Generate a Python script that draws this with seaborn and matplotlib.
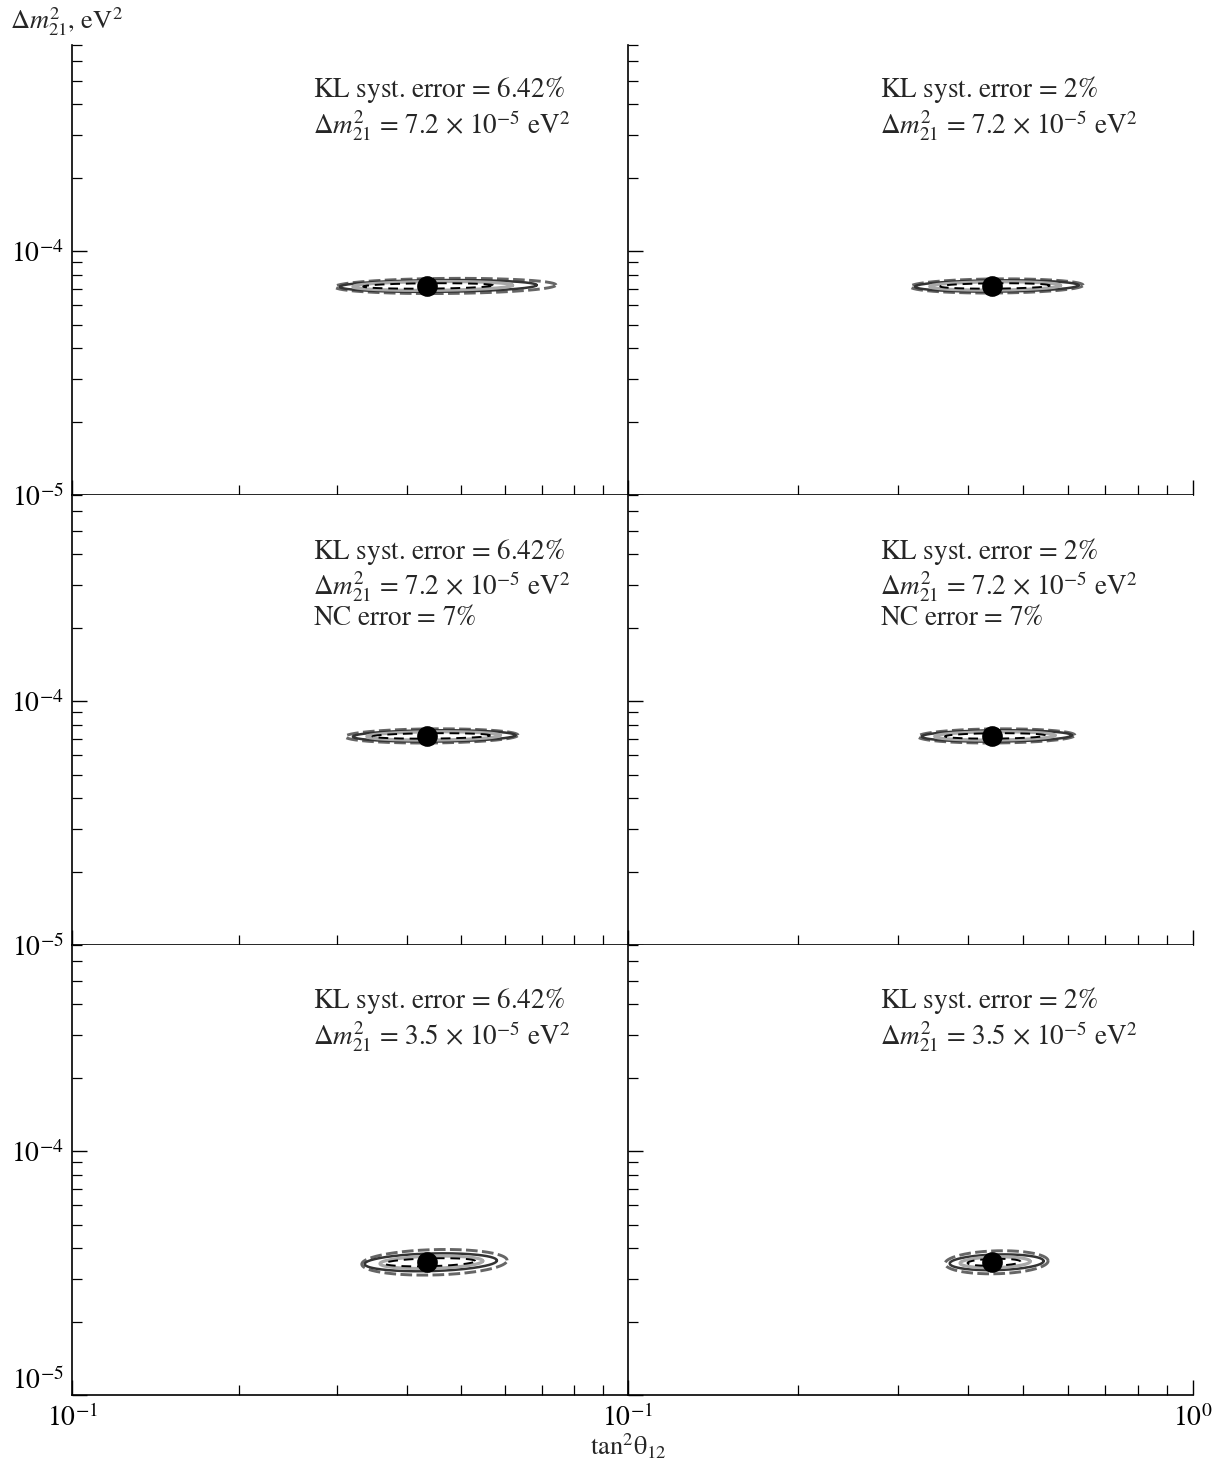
import numpy as np
import pandas as pd
import matplotlib
matplotlib.use("Agg")
import matplotlib.pyplot as plt
import seaborn as sns
from matplotlib.ticker import FixedLocator, NullFormatter

# ---------------- data ----------------
panel_text = [
    "KL syst. error = 6.42$\\%$\n$\\Delta m^2_{21}$ = 7.2 × 10$^{-5}$ eV$^2$",
    "KL syst. error = 2$\\%$\n$\\Delta m^2_{21}$ = 7.2 × 10$^{-5}$ eV$^2$",
    "KL syst. error = 6.42$\\%$\n$\\Delta m^2_{21}$ = 7.2 × 10$^{-5}$ eV$^2$\nNC error = 7$\\%$",
    "KL syst. error = 2$\\%$\n$\\Delta m^2_{21}$ = 7.2 × 10$^{-5}$ eV$^2$\nNC error = 7$\\%$",
    "KL syst. error = 6.42$\\%$\n$\\Delta m^2_{21}$ = 3.5 × 10$^{-5}$ eV$^2$",
    "KL syst. error = 2$\\%$\n$\\Delta m^2_{21}$ = 3.5 × 10$^{-5}$ eV$^2$",
]
best_tan2 = [0.435, 0.44, 0.435, 0.44, 0.435, 0.44]
best_dm2 = [7.2e-5, 7.2e-5, 7.2e-5, 7.2e-5, 3.5e-5, 3.5e-5]

# contour extents per panel; order: inner dashed, light solid, dark solid, outer dashed
c_tan2_lo = [
    [0.334, 0.320, 0.303, 0.297],
    [0.357, 0.342, 0.322, 0.316],
    [0.347, 0.339, 0.320, 0.310],
    [0.364, 0.349, 0.331, 0.326],
    [0.365, 0.358, 0.336, 0.332],
    [0.399, 0.387, 0.371, 0.364],
]
c_tan2_hi = [
    [0.572, 0.620, 0.685, 0.742],
    [0.558, 0.583, 0.627, 0.639],
    [0.565, 0.589, 0.627, 0.634],
    [0.548, 0.570, 0.610, 0.618],
    [0.531, 0.548, 0.581, 0.606],
    [0.495, 0.515, 0.544, 0.554],
]
# half heights of contours (decades of dm2)
c_dm2_halfdec = [
    [0.011, 0.018, 0.024, 0.031],
    [0.011, 0.017, 0.023, 0.029],
    [0.011, 0.017, 0.023, 0.029],
    [0.011, 0.017, 0.023, 0.029],
    [0.016, 0.025, 0.036, 0.052],
    [0.014, 0.022, 0.032, 0.047],
]
c_tilt = [0.02, 0.02, 0.02, 0.02, 0.06, 0.06]

x_ticklabels_left = ["$10^{-1}$", ""]
x_ticklabels_right = ["$10^{-1}$", "$10^{0}$"]
y_ticklabels = ["$10^{-5}$", "$10^{-4}$"]

# ---------------- styles ----------------
styles = [
    dict(color="#000000", lw=1.4, ls=(0, (5, 3))),
    dict(color="#a8a8a8", lw=2.3, ls="-"),
    dict(color="#333333", lw=1.8, ls="-"),
    dict(color="#666666", lw=2.1, ls=(0, (4, 1.5))),
]

sns.set_theme(style="ticks")
plt.rcParams["font.family"] = ["STIXGeneral", "DejaVu Serif"]
plt.rcParams["mathtext.fontset"] = "stix"
plt.rcParams["axes.linewidth"] = 1.2

fig = plt.figure(figsize=(12.15, 14.63), dpi=100)
gs = fig.add_gridspec(3, 2, left=0.0593, right=0.9819, top=0.9692, bottom=0.0465,
                      wspace=0, hspace=0, width_ratios=[556, 565])

text_y = [0.935, 0.935, 0.91, 0.91, 0.91, 0.91]

t = np.linspace(0, 2 * np.pi, 361)
for i in range(6):
    r, c = divmod(i, 2)
    ax = fig.add_subplot(gs[r, c])
    ax.set_xscale("log")
    ax.set_yscale("log")
    ax.set_xlim(0.1, 1.0)
    ax.set_ylim(1e-5, 7e-4)

    for k in [3, 2, 1, 0]:
        lo = np.log10(c_tan2_lo[i][k])
        hi = np.log10(c_tan2_hi[i][k])
        uc = 0.5 * (lo + hi)
        hw = 0.5 * (hi - lo)
        u = uc + hw * np.cos(t)
        v = np.log10(best_dm2[i]) + c_dm2_halfdec[i][k] * np.sin(t) + c_tilt[i] * (u - uc)
        df = pd.DataFrame({"x": 10 ** u, "y": 10 ** v})
        st = styles[k]
        sns.lineplot(data=df, x="x", y="y", sort=False, estimator=None, ax=ax,
                     color=st["color"], lw=st["lw"], linestyle=st["ls"])

    sns.scatterplot(x=[best_tan2[i]], y=[best_dm2[i]], ax=ax, color="black", s=190,
                    edgecolor="black", zorder=10, legend=False)

    ax.text(0.433 if c == 0 else 0.446, text_y[i], panel_text[i], transform=ax.transAxes,
            ha="left", va="top", fontsize=19.5, linespacing=1.1)

    for sp in ["top", "right"]:
        ax.spines[sp].set_visible(False)
    ax.spines["left"].set_color("black")
    ax.spines["bottom"].set_color("black")

    ax.xaxis.set_major_locator(FixedLocator([0.1, 1.0]))
    ax.xaxis.set_minor_locator(FixedLocator([0.2, 0.3, 0.4, 0.5, 0.6, 0.7, 0.8, 0.9]))
    ax.yaxis.set_major_locator(FixedLocator([1e-5, 1e-4]))
    ax.yaxis.set_minor_locator(FixedLocator([2e-5, 3e-5, 4e-5, 5e-5, 6e-5, 7e-5, 8e-5, 9e-5,
                                             2e-4, 3e-4, 4e-4, 5e-4, 6e-4, 7e-4]))
    ax.xaxis.set_minor_formatter(NullFormatter())
    ax.yaxis.set_minor_formatter(NullFormatter())
    ax.tick_params(which="major", direction="in", length=11, width=1.0, colors="black",
                   labelsize=20, top=False, right=False, pad=6)
    ax.tick_params(which="minor", direction="in", length=7, width=0.9, colors="black",
                   top=False, right=False)

    if r == 2:
        ax.set_xticklabels(x_ticklabels_left if c == 0 else x_ticklabels_right)
        ax.tick_params(axis="x", which="major", pad=7)
    else:
        ax.set_xticklabels(["", ""])
    if c == 0:
        ax.set_yticklabels(y_ticklabels)
        if r == 2:
            ax.get_yticklabels()[0].set_verticalalignment("bottom")
    else:
        ax.set_yticklabels(["", ""])
    ax.set_xlabel("")
    ax.set_ylabel("")

fig.text(0.008, 0.985, "$\\Delta m^2_{21}$, eV$^2$", ha="left", va="center", fontsize=19)
fig.text(0.517, 0.011, "tan$^2$θ$_{12}$", ha="center", va="center", fontsize=19)

fig.savefig("out.png", dpi=100, facecolor="white")
